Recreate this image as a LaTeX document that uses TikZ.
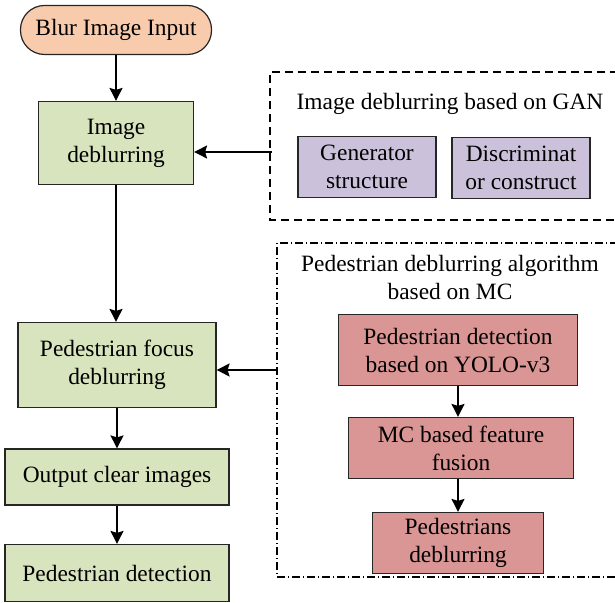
\documentclass[tikz,border=0pt]{standalone}
\usepackage{fontspec}
\setmainfont{Liberation Serif}
\usetikzlibrary{arrows.meta, positioning}
\definecolor{peach}{HTML}{F8CBAD}
\definecolor{sage}{HTML}{D7E4BD}
\definecolor{lilac}{HTML}{CCC1DA}
\definecolor{rose}{HTML}{D99694}
\definecolor{edge}{HTML}{262626}

\begin{document}
\begin{tikzpicture}[x=0.5pt, y=-0.5pt,
    box/.style={draw=edge, line width=0.6pt, align=center, inner sep=0pt, font=\fontsize{11.7}{14}\selectfont},
    stagebox/.style={box, fill=sage},
    ganbox/.style={box, fill=lilac, minimum width=69pt, minimum height=30.5pt},
    mcbox/.style={box, fill=rose},
    arr/.style={-{Stealth[length=6.5pt, width=6.5pt, inset=1pt]}, line width=0.8pt, black},
    title/.style={align=center, inner sep=0pt, font=\fontsize{11.7}{14}\selectfont}]
\useasboundingbox (0,0) rectangle (615,603);

% Main pipeline
\node[box, fill=peach, rounded corners=12pt, minimum width=95.5pt, minimum height=24.5pt] (input) at (116,30) {Blur Image Input};
\node[stagebox, minimum width=77.5pt, minimum height=41.5pt] (deblur) at (116,143) {Image\\deblurring};
\node[stagebox, minimum width=99pt, minimum height=42.5pt] (focus) at (117,365) {Pedestrian focus\\deblurring};
\node[stagebox, minimum width=112pt, minimum height=28pt] (output) at (117,477) {Output clear images};
\node[stagebox, minimum width=112pt, minimum height=28.5pt] (detect) at (117,573) {Pedestrian detection};

\draw[arr] (input.south) -- (deblur.north);
\draw[arr] (deblur.south) -- (deblur.south |- focus.north);
\draw[arr] (focus.south) -- (focus.south |- output.north);
\draw[arr] (output.south) -- (detect.north);

% GAN module
\draw[dashed, dash pattern=on 4pt off 2.5pt, line width=0.6pt] (618,72) -- (270,72) -- (270,220) -- (618,220);
\node[title] (gantitle) at (450,104) {Image deblurring based on GAN};
\node[ganbox] (gen) at (367,167) {Generator\\structure};
\node[ganbox] (disc) at (521,168) {Discriminat\\or construct};
\coordinate (ganin) at (272,152);
\draw[arr] (ganin) -- (ganin -| deblur.east);

% MC module
\draw[dash pattern=on 4pt off 1.5pt on 0.5pt off 1.5pt, line width=0.6pt] (618,243) -- (277,243) -- (277,577) -- (618,577);
\node[title] (mctitle) at (450,278) {Pedestrian deblurring algorithm\\based on MC};
\node[mcbox, minimum width=119.5pt, minimum height=35.5pt] (yolo) at (458,350) {Pedestrian detection\\based on YOLO-v3};
\node[mcbox, minimum width=112.5pt, minimum height=30.5pt] (fusion) at (461,448) {MC based feature\\fusion};
\node[mcbox, minimum width=85.5pt, minimum height=30.5pt] (peddeb) at (458,543) {Pedestrians\\deblurring};

\draw[arr] (yolo.south) -- (yolo.south |- fusion.north);
\draw[arr] (fusion.south -| yolo.south) -- (peddeb.north);
\coordinate (mcin) at (277,370);
\draw[arr] (mcin) -- (mcin -| focus.east);
\end{tikzpicture}
\end{document}
